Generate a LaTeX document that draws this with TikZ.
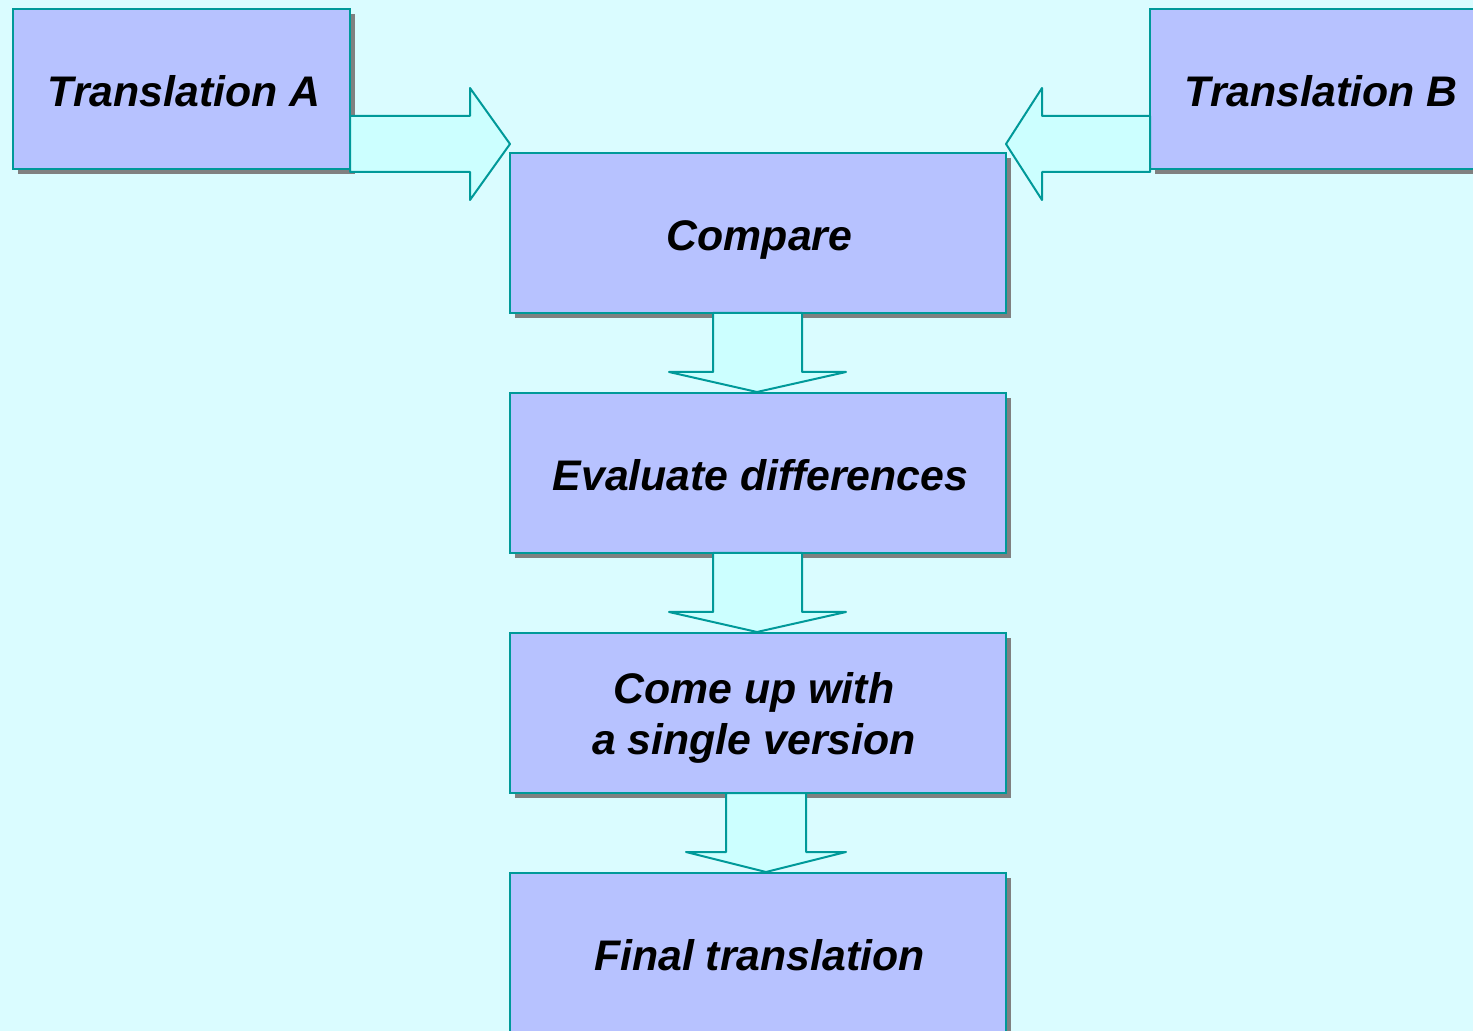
\documentclass[tikz,border=0pt]{standalone}
\usepackage{fontspec}
\setmainfont{Liberation Sans}
\usetikzlibrary{shadows}
\definecolor{bgc}{RGB}{218,252,255}
\definecolor{boxc}{RGB}{183,194,255}
\definecolor{edgec}{RGB}{0,153,153}
\definecolor{arrc}{RGB}{204,255,255}
\definecolor{shadc}{RGB}{128,128,128}
\tikzset{
  stepbox/.style={draw=edgec, fill=boxc, line width=1pt, rectangle, inner sep=0pt,
    minimum height=80pt,
    general shadow={fill=shadc, shadow xshift=2.5pt, shadow yshift=-2.5pt}},
  steptext/.style={anchor=base, inner sep=0pt, align=center,
    font=\fontsize{21.4}{25.5}\selectfont\bfseries\itshape},
  fatarrow/.style={draw=edgec, fill=arrc, line width=1pt, line join=round}
}
\begin{document}
\begin{tikzpicture}[x=0.5pt,y=-0.5pt]
\useasboundingbox (0,0) rectangle (1473,1031);
\clip (0,0) rectangle (1473,1031);
\fill[bgc] (0,0) rectangle (1473,1031);
% boxes
\node[stepbox, minimum width=168.5pt] (ta) at (181.5,89) {};
\node[stepbox, minimum width=172.5pt] (tb) at (1322.5,89) {};
\node[stepbox, minimum width=248pt] (cmp) at (758,233) {};
\node[stepbox, minimum width=248pt] (ev) at (758,473) {};
\node[stepbox, minimum width=248pt] (cu) at (758,713) {};
\node[stepbox, minimum width=248pt] (fin) at (758,953) {};
% texts
\node[steptext] (tat) at (184,106.5) {Translation A};
\node[steptext] (tbt) at (1321,106.5) {Translation B};
\node[steptext] (cmpt) at (759.5,250.5) {Compare};
\node[steptext] (evt) at (760.5,490.5) {Evaluate differences};
\node[steptext, anchor=center] (cut) at (754,717.5) {Come up with\\a single version};
\node[steptext] (fint) at (759.5,970.5) {Final translation};
% arrows
\draw[fatarrow] (350,116) -- (470,116) -- (470,88) -- (510,144) -- (470,200) -- (470,172) -- (350,172) -- cycle;
\draw[fatarrow] (1150,116) -- (1042,116) -- (1042,88) -- (1006,144) -- (1042,200) -- (1042,172) -- (1150,172) -- cycle;
\draw[fatarrow] (713,313) -- (713,372) -- (669,372) -- (757,392) -- (846,372) -- (802,372) -- (802,313) -- cycle;
\draw[fatarrow] (713,553) -- (713,612) -- (669,612) -- (757,632) -- (846,612) -- (802,612) -- (802,553) -- cycle;
\draw[fatarrow] (726,793) -- (726,852) -- (686,852) -- (766,872) -- (846,852) -- (806,852) -- (806,793) -- cycle;
\end{tikzpicture}
\end{document}
